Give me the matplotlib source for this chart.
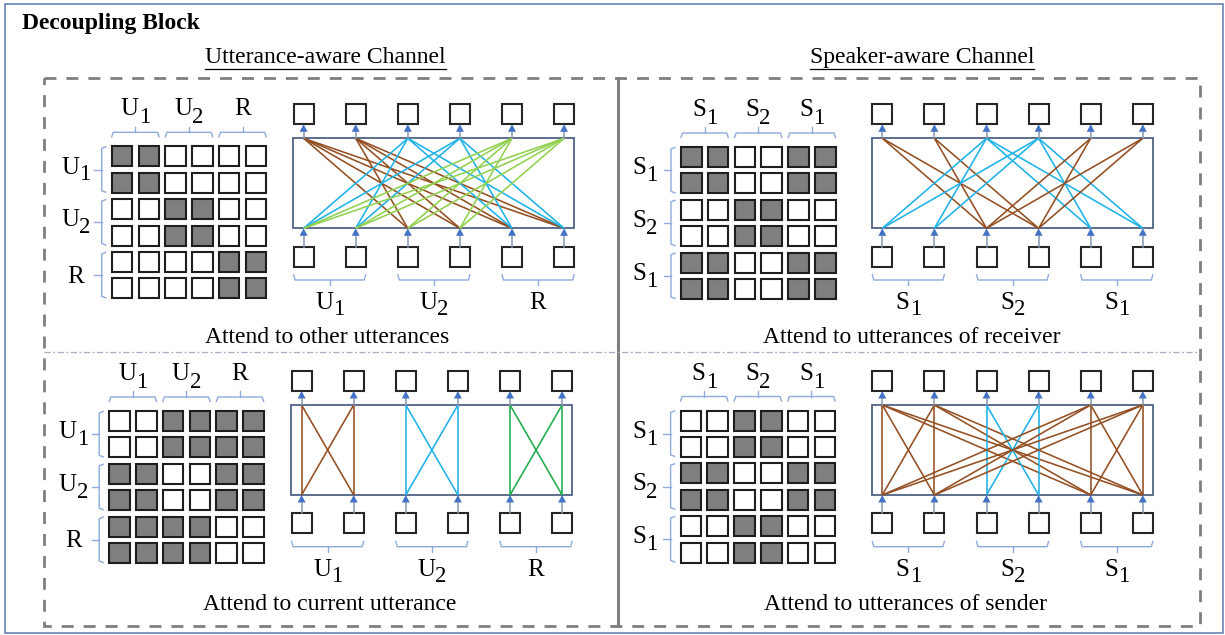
import matplotlib
matplotlib.use("Agg")
import matplotlib.pyplot as plt
from matplotlib.patches import Rectangle, Polygon

# ---------------- data ----------------
TITLE = "Decoupling Block"
CHANNEL_TITLES = ["Utterance-aware Channel", "Speaker-aware Channel"]
CAPTIONS = ["Attend to other utterances", "Attend to current utterance",
            "Attend to utterances of receiver", "Attend to utterances of sender"]

utt_groups = [("U", "1"), ("U", "2"), ("R", "")]
spk_groups = [("S", "1"), ("S", "2"), ("S", "1")]

# 1 = masked (dark cell), 0 = attended (white cell, drawn as a connection)
mask_other = [[1, 1, 0, 0, 0, 0],
              [1, 1, 0, 0, 0, 0],
              [0, 0, 1, 1, 0, 0],
              [0, 0, 1, 1, 0, 0],
              [0, 0, 0, 0, 1, 1],
              [0, 0, 0, 0, 1, 1]]
mask_current = [[0, 0, 1, 1, 1, 1],
                [0, 0, 1, 1, 1, 1],
                [1, 1, 0, 0, 1, 1],
                [1, 1, 0, 0, 1, 1],
                [1, 1, 1, 1, 0, 0],
                [1, 1, 1, 1, 0, 0]]
mask_receiver = [[1, 1, 0, 0, 1, 1],
                 [1, 1, 0, 0, 1, 1],
                 [0, 0, 1, 1, 0, 0],
                 [0, 0, 1, 1, 0, 0],
                 [1, 1, 0, 0, 1, 1],
                 [1, 1, 0, 0, 1, 1]]
mask_sender = [[0, 0, 1, 1, 0, 0],
               [0, 0, 1, 1, 0, 0],
               [1, 1, 0, 0, 1, 1],
               [1, 1, 0, 0, 1, 1],
               [0, 0, 1, 1, 0, 0],
               [0, 0, 1, 1, 0, 0]]

BROWN = "#934f22"
BLUE = "#1fb2e8"
LGREEN = "#92d050"
DGREEN = "#1fac4a"
colors_other = [BROWN, BLUE, LGREEN]
colors_current = [BROWN, BLUE, DGREEN]
colors_speaker = [BROWN, BLUE, BROWN]

# ---------------- layout ----------------
SERIF = "Liberation Serif"
FS = 17
LFS = 18
SUB_FS = 16.5
W, H = 1225, 635

fig = plt.figure(figsize=(W / 100, H / 100), dpi=100)
ax = fig.add_axes([0, 0, 1, 1])
ax.set_xlim(0, W)
ax.set_ylim(H, 0)
ax.axis("off")
renderer = fig.canvas.get_renderer()

CELL_W, CELL_H = 20.5, 20.0
COL_P, ROW_P = 26.8, 26.4
RECT_W, RECT_H = 281.0, 90.0
NODE_P = 52.1
NODE_X0 = 10.3
BOX = 20.0
BRACKET_C = "#8faadc"
ARROW_C = "#4472c4"
STEM_C = "#8497b0"
RECT_C = "#4f6286"


def text_width(s, fs, weight="normal"):
    t = ax.text(0, 0, s, fontsize=fs, family=SERIF, weight=weight)
    w = t.get_window_extent(renderer).width
    t.remove()
    return w


def sublabel(xc, yb, main, sub, sub_dy=8):
    wm = text_width(main, LFS)
    ws = text_width(sub, SUB_FS) if sub else 0.0
    x0 = xc - (wm + ws) / 2
    ax.text(x0, yb, main, fontsize=LFS, family=SERIF, ha="left", va="baseline")
    if sub:
        ax.text(x0 + wm, yb + sub_dy, sub, fontsize=SUB_FS, family=SERIF,
                ha="left", va="baseline")


def up_arrow(x, y_from, y_tip):
    head = 7.5
    ax.plot([x, x], [y_from, y_tip + head], color=STEM_C, lw=1.1, zorder=3)
    ax.add_patch(Polygon([(x - 4, y_tip + head), (x + 4, y_tip + head), (x, y_tip)],
                         closed=True, facecolor=ARROW_C, edgecolor="none", zorder=4))


def draw_panel(mx0, my0, rx0, ry0, mask, groups, colors, caption, cap_x):
    # matrix
    for i in range(6):
        for j in range(6):
            ax.add_patch(Rectangle((mx0 + j * COL_P, my0 + i * ROW_P), CELL_W, CELL_H,
                                   facecolor="#7f7f7f" if mask[i][j] else "white",
                                   edgecolor="#1e1e1e", lw=1.5, zorder=2))
    for g, (main, sub) in enumerate(groups):
        # column bracket + label
        x0 = mx0 + 2 * g * COL_P
        x1 = mx0 + (2 * g + 1) * COL_P + CELL_W
        xc = (x0 + x1) / 2
        yh = my0 - 14
        ax.plot([x0, x0 + 1.5, x1 - 1.5, x1], [my0 - 9.5, yh, yh, my0 - 9.5],
                color=BRACKET_C, lw=1.0)
        ax.plot([xc, xc], [yh, my0 - 19.6], color=BRACKET_C, lw=1.0)
        sublabel(xc, my0 - 31, main, sub)
        # row bracket + label
        y0 = my0 + 2 * g * ROW_P
        y1 = my0 + (2 * g + 1) * ROW_P + CELL_H
        yc = (y0 + y1) / 2
        xv = mx0 - 10
        ax.plot([mx0 - 6, xv, xv, mx0 - 6], [y0 + 0.5, y0 + 2, y1 - 2, y1 - 0.5],
                color=BRACKET_C, lw=1.0)
        ax.plot([mx0 - 17.4, xv], [yc, yc], color=BRACKET_C, lw=1.0)
        if sub:
            sublabel(mx0 - 36, yc + 4, main, sub, sub_dy=7)
        else:
            sublabel(mx0 - 36, yc + 7.5, main, sub)

    # network
    nx = [rx0 + NODE_X0 + k * NODE_P for k in range(6)]
    ry1 = ry0 + RECT_H
    ax.add_patch(Rectangle((rx0, ry0), RECT_W, RECT_H, facecolor="white",
                           edgecolor=RECT_C, lw=1.3, zorder=1))
    for i in range(6):
        for j in range(6):
            if not mask[i][j]:
                ax.plot([nx[i], nx[j]], [ry0, ry1], color=colors[i // 2],
                        lw=1.15, zorder=2, solid_capstyle="butt")
    for k in range(6):
        # top boxes
        ax.add_patch(Rectangle((nx[k] - BOX / 2, ry0 - 34), BOX, BOX, facecolor="white",
                               edgecolor="#262626", lw=1.5, zorder=3))
        up_arrow(nx[k], ry0, ry0 - 14)
        # bottom boxes
        ax.add_patch(Rectangle((nx[k] - BOX / 2, ry0 + 108.4), BOX, BOX, facecolor="white",
                               edgecolor="#262626", lw=1.5, zorder=3))
        up_arrow(nx[k], ry0 + 108.4, ry1)
    for g, (main, sub) in enumerate(groups):
        x0 = nx[2 * g] - BOX / 2
        x1 = nx[2 * g + 1] + BOX / 2
        xc = (x0 + x1) / 2
        yh = ry0 + 141.7
        ax.plot([x0, x0 + 1.5, x1 - 1.5, x1], [ry0 + 136.5, yh, yh, ry0 + 136.5],
                color=BRACKET_C, lw=1.0)
        ax.plot([xc, xc], [yh, ry0 + 147], color=BRACKET_C, lw=1.0)
        sublabel(xc, ry0 + 170.5, main, sub, sub_dy=6)

    ax.text(cap_x, ry0 + 205, caption, fontsize=FS, family=SERIF,
            ha="center", va="baseline")


# outer frame
ax.add_patch(Rectangle((5, 4), 1217.5, 628.5, facecolor="none", edgecolor="#5b7bb0", lw=1.1))
ax.text(21.5, 29.5, TITLE, fontsize=FS, family=SERIF, weight="bold", va="baseline")

# channel titles with underline
for xc, t in zip([325.5, 922], CHANNEL_TITLES):
    ax.text(xc, 63, t, fontsize=FS, family=SERIF, ha="center", va="baseline")
    w = text_width(t, FS)
    ax.plot([xc - w / 2, xc + w / 2], [68.5, 68.5], color="black", lw=0.9)

# dashed container, separators
ax.add_patch(Rectangle((43.5, 78.3), 1200 - 43.5, 625.7 - 78.3, facecolor="none",
                       edgecolor="#7f7f7f", lw=2.0, linestyle=(0, (4.3, 3.6))))
ax.plot([617.5, 617.5], [78.3, 625.7], color="#7f7f7f", lw=2.2)
ax.plot([43.5, 1200], [352.3, 352.3], color="#a7aec2", lw=0.9,
        linestyle=(0, (5, 2, 1.5, 2)))

draw_panel(111.7, 146.3, 293.3, 138.3, mask_other, utt_groups, colors_other, CAPTIONS[0], 327)
draw_panel(109.2, 411.0, 291.3, 405.0, mask_current, utt_groups, colors_current, CAPTIONS[1], 330)
draw_panel(681.0, 147.0, 872.0, 138.3, mask_receiver, spk_groups, colors_speaker, CAPTIONS[2], 912)
draw_panel(680.6, 410.5, 872.0, 405.0, mask_sender, spk_groups, colors_speaker, CAPTIONS[3], 906)

fig.savefig("out.png", dpi=100)
